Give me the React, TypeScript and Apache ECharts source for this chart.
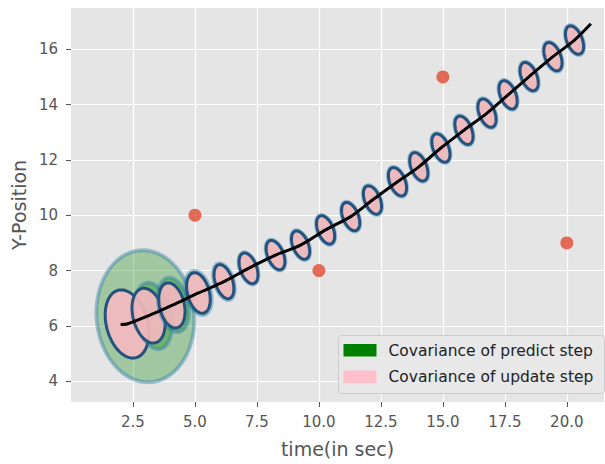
import React, { useEffect, useRef } from "react";
import * as echarts from "echarts";

// ---- data ----
const xTicks = [2.5, 5, 7.5, 10, 12.5, 15, 17.5, 20];
const yTicks = [4, 6, 8, 10, 12, 14, 16];

// measurements (red dots)
const measureX = [5, 10, 15, 20];
const measureY = [10, 8, 15, 9];

// estimated states (update-step ellipse centres, line vertices)
const stepX = [2.26, 3.13, 4.07, 5.14, 6.17, 7.16, 8.25, 9.26, 10.27, 11.28, 12.16, 13.17, 14.03, 14.92, 15.85, 16.78, 17.63, 18.48, 19.44, 20.31];
const stepY = [6.07, 6.37, 6.74, 7.19, 7.6, 8.08, 8.56, 8.92, 9.47, 9.95, 10.55, 11.21, 11.75, 12.43, 13.07, 13.69, 14.35, 15.01, 15.73, 16.33];
const trackStart = [2.0, 6.05];
const trackEnd = [20.97, 16.92];

// update-step covariance ellipses: semi-axes (data units) and tilt (deg)
const updA = [0.83, 0.63, 0.5, 0.44, 0.35, 0.33, 0.32, 0.31, 0.31, 0.31, 0.31, 0.31, 0.31, 0.31, 0.31, 0.31, 0.31, 0.31, 0.31, 0.31];
const updB = [1.26, 1.01, 0.83, 0.75, 0.64, 0.58, 0.56, 0.54, 0.54, 0.54, 0.54, 0.54, 0.54, 0.54, 0.54, 0.54, 0.54, 0.54, 0.54, 0.54];
const updAng = [15, 14, 13, 15, 18, 20, 22, 22, 22, 22, 22, 22, 22, 22, 22, 22, 22, 22, 22, 22];

// predict-step covariance ellipses
const predX = [3.0, 3.32, 4.13, 5.14, 6.17, 7.16, 8.25, 9.26, 10.27, 11.28, 12.16, 13.17, 14.03, 14.92, 15.85, 16.78, 17.63, 18.48, 19.44, 20.31];
const predY = [6.35, 6.36, 6.76, 7.19, 7.6, 8.08, 8.56, 8.92, 9.47, 9.95, 10.55, 11.21, 11.75, 12.43, 13.07, 13.69, 14.35, 15.01, 15.73, 16.33];
const predA = [1.97, 0.72, 0.6, 0.5, 0.39, 0.35, 0.34, 0.33, 0.33, 0.33, 0.33, 0.33, 0.33, 0.33, 0.33, 0.33, 0.33, 0.33, 0.33, 0.33];
const predB = [2.39, 1.22, 1.0, 0.82, 0.69, 0.61, 0.59, 0.57, 0.57, 0.57, 0.57, 0.57, 0.57, 0.57, 0.57, 0.57, 0.57, 0.57, 0.57, 0.57];
const predAng = [5, 12, 12, 15, 18, 20, 22, 22, 22, 22, 22, 22, 22, 22, 22, 22, 22, 22, 22, 22];

const legendLabels = ["Covariance of predict step", "Covariance of update step"];
const legendColors = ["#008000", "#FFC0CB"];

const FONT = "DejaVu Sans";

export default function App() {
  const ref = useRef<HTMLDivElement>(null);

  useEffect(() => {
    if (!ref.current) return;
    const chart = echarts.init(ref.current, undefined, { renderer: "svg" });

    const ellipseData: any[] = [];
    for (let i = 0; i < stepX.length; i++) {
      ellipseData.push([predX[i], predY[i], predA[i], predB[i], predAng[i], 0]);
      ellipseData.push([stepX[i], stepY[i], updA[i], updB[i], updAng[i], 1]);
    }

    const lineData = [trackStart, ...stepX.map((x, i) => [x, stepY[i]]), trackEnd];

    const renderEllipse = (params: any, api: any) => {
      const c = api.coord([api.value(0), api.value(1)]);
      const s = api.size([api.value(2), api.value(3)]);
      const th = (api.value(4) * Math.PI) / 180;
      const kind = api.value(5);
      const pts: number[][] = [];
      const n = 80;
      for (let k = 0; k < n; k++) {
        const t = (2 * Math.PI * k) / n;
        const u = s[0] * Math.cos(t);
        const v = s[1] * Math.sin(t);
        const xr = u * Math.cos(th) - v * Math.sin(th);
        const yr = u * Math.sin(th) + v * Math.cos(th);
        pts.push([c[0] + xr, c[1] - yr]);
      }
      const style =
        kind === 0
          ? { fill: "rgba(0,128,0,0.3)", stroke: "rgba(40,125,170,0.42)", lineWidth: 3.8 }
          : { fill: "rgba(245,184,192,0.9)", stroke: "#23527F", lineWidth: 3 };
      return { type: "polygon", shape: { points: pts }, style };
    };

    chart.setOption({
      animation: false,
      textStyle: { fontFamily: FONT },
      grid: {
        left: 71,
        right: 1,
        top: 8,
        bottom: 62,
        show: true,
        backgroundColor: "#E5E5E5",
        borderWidth: 0,
      },
      xAxis: {
        type: "value",
        min: 0,
        max: 21.5,
        interval: 2.5,
        name: "time(in sec)",
        nameLocation: "middle",
        nameGap: 37,
        nameTextStyle: { fontSize: 19, color: "#555555", fontFamily: FONT },
        axisLine: { show: false },
        axisTick: { show: true, customValues: xTicks, length: 5, lineStyle: { color: "#555555", width: 1 } },
        axisLabel: {
          customValues: xTicks,
          formatter: (v: number) => v.toFixed(1),
          fontSize: 15,
          color: "#555555",
          margin: 12,
          fontFamily: FONT,
        },
        splitLine: { show: true, lineStyle: { color: "#FFFFFF", width: 1.2 } },
      },
      yAxis: {
        type: "value",
        min: 3.25,
        max: 17.49,
        name: "Y-Position",
        nameLocation: "middle",
        nameGap: 41,
        nameTextStyle: { fontSize: 19, color: "#555555", fontFamily: FONT },
        axisLine: { show: false },
        axisTick: { show: true, customValues: yTicks, length: 5, lineStyle: { color: "#555555", width: 1 } },
        axisLabel: {
          customValues: yTicks,
          formatter: (v: number) => String(v),
          fontSize: 15,
          color: "#555555",
          margin: 13,
          fontFamily: FONT,
        },
        splitLine: { show: true, lineStyle: { color: "#FFFFFF", width: 1.2 } },
      },
      series: [
        {
          type: "custom",
          name: "covariance",
          silent: true,
          z: 2,
          clip: false,
          encode: { x: 0, y: 1 },
          renderItem: renderEllipse,
          data: ellipseData,
        },
        {
          type: "line",
          name: "track",
          z: 3,
          silent: true,
          showSymbol: false,
          smooth: 0.3,
          lineStyle: { color: "#000000", width: 3 },
          data: lineData,
        },
        {
          type: "scatter",
          name: "measurements",
          z: 4,
          silent: true,
          symbolSize: 13,
          itemStyle: { color: "#E24A33" },
          data: measureX.map((x, i) => [x, measureY[i]]),
        },
      ],
      graphic: [
        {
          type: "group",
          left: 338,
          top: 335,
          z: 100,
          children: [
            {
              type: "rect",
              z: 100,
              shape: { x: 0, y: 0, width: 266, height: 58, r: 3 },
              style: { fill: "rgba(232,232,232,0.96)", stroke: "#CCCCCC", lineWidth: 1 },
            },
            {
              type: "rect",
              z: 101,
              shape: { x: 5, y: 8.5, width: 33, height: 12.5 },
              style: { fill: legendColors[0] },
            },
            {
              type: "rect",
              z: 101,
              shape: { x: 5, y: 35, width: 33, height: 12.5 },
              style: { fill: legendColors[1] },
            },
            {
              type: "text",
              z: 101,
              x: 50,
              y: 15,
              style: {
                text: legendLabels[0],
                fontSize: 15.5,
                fontFamily: FONT,
                fill: "#222222",
                verticalAlign: "middle",
              },
            },
            {
              type: "text",
              z: 101,
              x: 50,
              y: 41.5,
              style: {
                text: legendLabels[1],
                fontSize: 15.5,
                fontFamily: FONT,
                fill: "#222222",
                verticalAlign: "middle",
              },
            },
          ],
        },
      ],
    });

    return () => chart.dispose();
  }, []);

  return (
    <div
      ref={ref}
      style={{ position: "absolute", left: 0, top: 0, width: 605, height: 464 }}
    />
  );
}
